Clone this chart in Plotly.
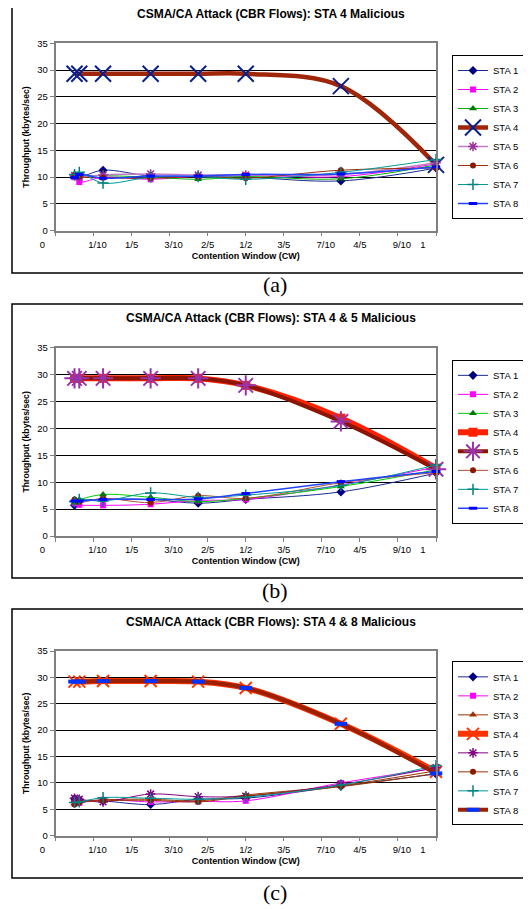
import plotly.graph_objects as go

# The page body has the browser's default 8px margin, so the figure is made
# 8px smaller and every page position is translated by that offset.
PAGE_W, PAGE_H = 531, 909
OFFSET = 8
W, H = PAGE_W - OFFSET, PAGE_H - OFFSET

# ---------------- data ----------------
CW = [0.05, 0.0625, 0.125, 0.25, 0.375, 0.5, 0.75, 1.0]
CW_TICKS = [0.0, 0.1, 0.2, 0.3, 0.4, 0.5, 0.6, 0.7, 0.8, 0.9, 1.0]
CW_TICK_LABELS = ["0", "1/10", "1/5", "3/10", "2/5", "1/2", "3/5", "7/10", "4/5", "9/10", "1"]
Y_TICKS = [0, 5, 10, 15, 20, 25, 30, 35]
STATIONS = ["STA 1", "STA 2", "STA 3", "STA 4", "STA 5", "STA 6", "STA 7", "STA 8"]
TITLES = [
    "CSMA/CA Attack (CBR Flows): STA 4 Malicious",
    "CSMA/CA Attack (CBR Flows): STA 4 & 5 Malicious",
    "CSMA/CA Attack (CBR Flows): STA 4 & 8 Malicious",
]
CAPTIONS = ["(a)", "(b)", "(c)"]
X_TITLE = "Contention Window (CW)"
Y_TITLE = "Throughput (kbytes/sec)"

# (a) STA 4 malicious
A_STA1 = [10.2, 10.0, 11.3, 10.2, 10.1, 10.0, 9.3, 11.7]
A_STA2 = [10.0, 9.1, 10.0, 9.6, 10.2, 10.4, 10.1, 12.5]
A_STA3 = [10.6, 10.4, 10.3, 10.0, 9.6, 10.1, 9.7, 12.3]
A_STA4 = [29.3, 29.3, 29.3, 29.3, 29.3, 29.3, 27.0, 12.3]
A_STA5 = [10.3, 10.0, 10.4, 10.6, 10.4, 10.4, 10.5, 12.7]
A_STA6 = [10.4, 10.1, 9.9, 9.8, 10.1, 9.8, 11.3, 11.7]
A_STA7 = [10.5, 10.9, 8.9, 10.0, 10.1, 9.6, 10.9, 13.3]
A_STA8 = [9.9, 10.5, 9.8, 10.2, 10.2, 10.5, 10.6, 11.9]

# (b) STA 4 & 5 malicious
B_STA1 = [5.7, 6.5, 6.8, 6.8, 6.1, 6.8, 8.2, 11.7]
B_STA2 = [6.1, 5.8, 5.7, 5.9, 6.6, 6.8, 9.5, 12.8]
B_STA3 = [6.2, 6.7, 7.7, 7.2, 6.4, 7.0, 9.2, 12.3]
B_STA4 = [29.3, 29.3, 29.3, 29.3, 29.3, 28.0, 21.9, 12.6]
B_STA5 = [29.3, 29.3, 29.3, 29.3, 29.3, 28.0, 21.3, 12.4]
B_STA6 = [6.8, 6.3, 7.0, 6.2, 7.5, 7.0, 9.9, 11.8]
B_STA7 = [6.4, 6.8, 6.5, 8.0, 7.2, 7.6, 9.4, 13.2]
B_STA8 = [6.5, 6.5, 6.8, 6.8, 6.9, 7.9, 10.1, 12.0]

# (c) STA 4 & 8 malicious
C_STA1 = [7.0, 6.8, 6.6, 5.9, 6.9, 7.1, 9.4, 11.7]
C_STA2 = [6.1, 6.2, 6.8, 6.4, 6.5, 6.6, 10.0, 12.8]
C_STA3 = [6.1, 6.4, 6.8, 6.9, 6.6, 7.7, 9.5, 12.3]
C_STA4 = [29.2, 29.2, 29.3, 29.3, 29.2, 28.0, 21.2, 12.1]
C_STA5 = [7.1, 6.9, 6.4, 7.9, 7.4, 7.5, 9.7, 12.9]
C_STA6 = [5.9, 6.3, 6.6, 6.7, 6.4, 7.5, 9.3, 11.8]
C_STA7 = [6.3, 6.4, 7.2, 7.1, 6.9, 7.3, 9.6, 13.3]
C_STA8 = [29.2, 29.2, 29.3, 29.3, 29.2, 28.0, 21.2, 11.8]

DATA = [
    [A_STA1, A_STA2, A_STA3, A_STA4, A_STA5, A_STA6, A_STA7, A_STA8],
    [B_STA1, B_STA2, B_STA3, B_STA4, B_STA5, B_STA6, B_STA7, B_STA8],
    [C_STA1, C_STA2, C_STA3, C_STA4, C_STA5, C_STA6, C_STA7, C_STA8],
]

# ---------------- styles ----------------
def st(line, lw, sym, ms, mc, mlw=0):
    return dict(line=line, lw=lw, sym=sym, ms=ms, mc=mc, mlw=mlw)

NAVY = st("#1a2a8c", 1, "diamond", 7, "#000080")
MAG = st("#FF00FF", 1, "square", 6, "#FF00FF")
TEAL = st("#009999", 1, "cross-thin-open", 8, "#008080", 1.5)
BLUE = st("#2244FF", 1.5, "line-ew-open", 6, "#0000FF", 3)
DRED = st("#993300", 1, "circle", 6, "#8B1A00")
STYLES = [
    [NAVY, MAG,
     st("#00B000", 1, "triangle-up", 7, "#007A00"),
     st("#A0260A", 4.5, "x-thin-open", 16, "#0A1E8C", 2),
     st("#C07AC8", 1.5, "asterisk-open", 8, "#993399", 1.5),
     DRED, TEAL, BLUE],
    [NAVY, MAG,
     st("#00CC00", 1, "triangle-up", 7, "#007A00"),
     st("#FF2200", 6, "square", 9, "#FF2200"),
     st("#8B1500", 4, "asterisk-open", 17, "#9933AA", 2),
     st("#B05030", 1, "circle", 6, "#8B1A00"), TEAL, BLUE],
    [NAVY, MAG,
     st("#993300", 1, "triangle-up", 7, "#A03000"),
     st("#FF3300", 6, "x-thin-open", 12, "#FF3300", 2),
     st("#800080", 1, "asterisk-open", 8, "#800080", 1.5),
     DRED, TEAL,
     st("#9B2000", 4, "line-ew-open", 9, "#0033FF", 4)],
]

# ---------------- layout geometry (page pixels) ----------------
PANELS = [
    dict(box=(1, 273), plot=(43.3, 230.7), title_y=14, caption_y=284),
    dict(box=(304, 578), plot=(347.7, 536), title_y=318, caption_y=590),
    dict(box=(609, 878), plot=(651, 835.7), title_y=622, caption_y=892),
]
PLOT_X = (55.5, 436)
LEGEND_X = 452
FONT = "Liberation Sans, Arial, sans-serif"
SERIF = "Liberation Serif, Times New Roman, serif"


def px_x(v):
    return (v - OFFSET) / W


def px_y(v):
    return 1 - (v - OFFSET) / H


def tick_text(lbl):
    if lbl in ("0", "1"):
        return lbl + "\u00a0" * 10
    if lbl.endswith("/10"):
        return "\u00a0\u00a0\u00a0" + lbl
    return lbl


fig = go.Figure()
sfx = ["", "2", "3"]
legends = ["legend", "legend2", "legend3"]

for ci, (series, styles) in enumerate(zip(DATA, STYLES)):
    for name, yv, s in zip(STATIONS, series, styles):
        fig.add_trace(go.Scatter(
            x=CW, y=yv, name=name, mode="lines+markers",
            xaxis="x" + sfx[ci], yaxis="y" + sfx[ci], legend=legends[ci],
            line=dict(color=s["line"], width=s["lw"], shape="spline", smoothing=1.0),
            marker=dict(symbol=s["sym"], size=s["ms"], color=s["mc"],
                        line=dict(color=s["mc"], width=s["mlw"])),
            cliponaxis=False,
        ))

layout = dict(
    width=W, height=H, autosize=False,
    margin=dict(l=0, r=0, t=0, b=0),
    paper_bgcolor="white", plot_bgcolor="white",
    font=dict(family=FONT, color="black"),
    template="none",
    showlegend=True,
)

shapes = []
annotations = []
for ci, p in enumerate(PANELS):
    top, bot = p["plot"]
    xa = dict(
        domain=[px_x(PLOT_X[0]), px_x(PLOT_X[1])], range=[0, 1],
        anchor="y" + sfx[ci], tickmode="array", tickvals=CW_TICKS,
        ticktext=[tick_text(t) for t in CW_TICK_LABELS],
        ticks="outside", ticklen=4, tickwidth=1, tickcolor="#808080",
        showline=True, linecolor="#808080", linewidth=1.5, mirror=True,
        showgrid=False, zeroline=False, automargin=False,
        tickfont=dict(size=9.5, family=FONT, color="black"),
        title=dict(text=X_TITLE, standoff=4,
                   font=dict(size=9, family=FONT, color="black", weight="bold")),
    )
    ya = dict(
        domain=[px_y(bot), px_y(top)], range=[0, 35],
        anchor="x" + sfx[ci], tickmode="array", tickvals=Y_TICKS,
        ticks="outside", ticklen=4, tickwidth=1, tickcolor="#808080",
        showline=True, linecolor="#808080", linewidth=1.5, mirror=True,
        showgrid=True, gridcolor="black", gridwidth=1, zeroline=False,
        automargin=False,
        tickfont=dict(size=9.5, family=FONT, color="black"),
        title=dict(text=Y_TITLE, standoff=6,
                   font=dict(size=8.7, family=FONT, color="black", weight="bold")),
    )
    layout["xaxis" + sfx[ci]] = xa
    layout["yaxis" + sfx[ci]] = ya
    layout[legends[ci]] = dict(
        x=px_x(LEGEND_X), xanchor="left", y=px_y((top + bot) / 2), yanchor="middle",
        bgcolor="white", bordercolor="black", borderwidth=1,
        font=dict(size=9.5, family=FONT, color="black"),
        itemwidth=30, traceorder="normal",
    )
    b0, b1 = p["box"]
    shapes.append(dict(type="rect", xref="paper", yref="paper",
                       x0=px_x(12), x1=1.02, y0=px_y(b1), y1=px_y(b0),
                       line=dict(color="black", width=1.5), fillcolor="rgba(0,0,0,0)",
                       layer="below"))
    annotations.append(dict(text="<b>" + TITLES[ci] + "</b>", xref="paper", yref="paper",
                            x=px_x(271), y=px_y(p["title_y"]), xanchor="center",
                            yanchor="middle", showarrow=False,
                            font=dict(size=12, family=FONT, color="black")))
    annotations.append(dict(text=CAPTIONS[ci], xref="paper", yref="paper",
                            x=px_x(275), y=px_y(p["caption_y"]), xanchor="center",
                            yanchor="middle", showarrow=False,
                            font=dict(size=22, family=SERIF, color="black")))

layout["shapes"] = shapes
layout["annotations"] = annotations
fig.update_layout(**layout)
fig.write_html("out.html")
